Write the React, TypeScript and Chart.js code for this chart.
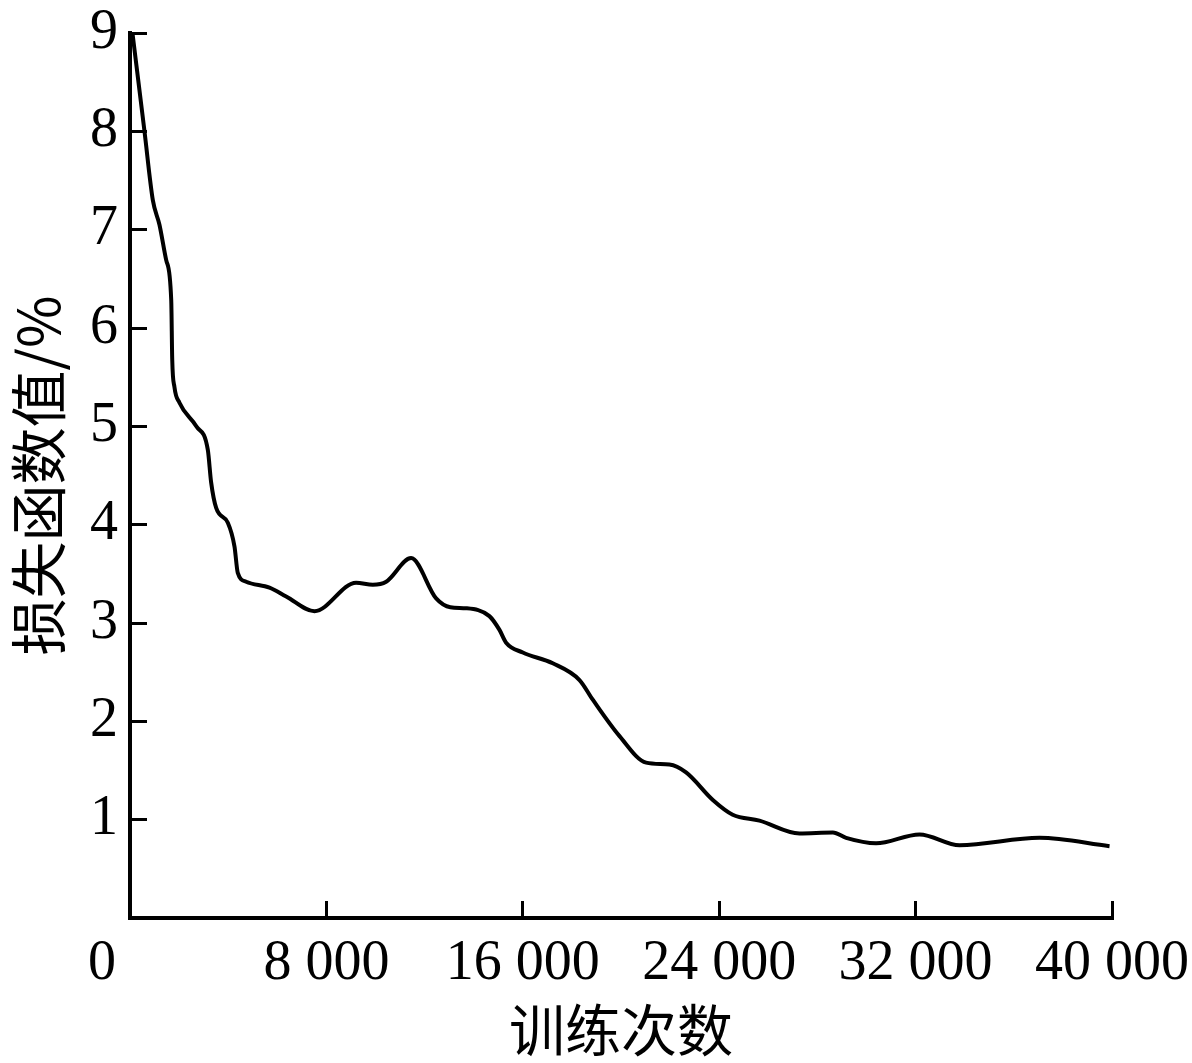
import { useEffect, useRef } from 'react';
import { Chart, registerables } from 'chart.js';

Chart.register(...registerables);

// training iterations vs loss (%)
const iterations = [
  100, 590, 930, 1200, 1475, 1680, 1720, 1810, 2015, 2700, 3170, 3305, 3510, 3985,
  4255, 4390, 4730, 5680, 6360, 7515, 9210, 9890, 10435, 11450, 12470, 13050, 13690,
  14640, 15050, 15320, 16000, 17220, 18310, 18850, 19940, 21025, 21970, 22650, 23740,
  24550, 25640, 27270, 28630, 29170, 30390, 32160, 33790, 37045, 39900,
];
const lossValues = [
  9.0, 8.0, 7.3, 7.05, 6.69, 6.28, 5.68, 5.4, 5.24, 5.0, 4.76, 4.43, 4.17, 4.02,
  3.78, 3.51, 3.42, 3.36, 3.27, 3.12, 3.41, 3.39, 3.42, 3.66, 3.25, 3.16, 3.15,
  3.07, 2.93, 2.8, 2.7, 2.59, 2.42, 2.22, 1.85, 1.58, 1.56, 1.48, 1.2,
  1.05, 0.99, 0.86, 0.87, 0.815, 0.76, 0.85, 0.74, 0.815, 0.73,
];
const xTicks = [0, 8000, 16000, 24000, 32000, 40000];
const xTickLabels = ['0', '8 000', '16 000', '24 000', '32 000', '40 000'];
const yTicks = [1, 2, 3, 4, 5, 6, 7, 8, 9];

const serif = '"Liberation Serif", "Times New Roman", serif';
const cjk = '"Noto Sans CJK SC", sans-serif';

export default function App() {
  const canvasRef = useRef<HTMLCanvasElement>(null);

  useEffect(() => {
    if (!canvasRef.current) return;

    const chart = new Chart(canvasRef.current, {
      type: 'line',
      data: {
        datasets: [
          {
            data: iterations.map((x, i) => ({ x, y: lossValues[i] })),
            borderColor: '#000',
            borderWidth: 4,
            pointRadius: 0,
            fill: false,
            tension: 0.4,
            cubicInterpolationMode: 'monotone',
          },
        ],
      },
      options: {
        animation: false,
        responsive: true,
        maintainAspectRatio: false,
        layout: { padding: { top: 33, right: 80, bottom: 0, left: 0 } },
        plugins: { legend: { display: false }, tooltip: { enabled: false } },
        scales: {
          x: {
            type: 'linear',
            min: 0,
            max: 40000,
            afterBuildTicks: (s: any) => { s.ticks = xTicks.map((v) => ({ value: v })); },
            afterFit: (s: any) => {
              s.height = 145;
              s.paddingLeft = 0;
              s.paddingRight = 0;
            },
            grid: { drawOnChartArea: false, tickLength: -17, color: '#000', lineWidth: 3 },
            border: { color: '#000', width: 4 },
            ticks: {
              autoSkip: false,
              maxRotation: 0,
              padding: 30,
              color: '#000',
              font: { family: serif, size: 56 },
              callback: (v: any) => {
                const i = xTicks.indexOf(Number(v));
                if (i < 0) return '';
                // origin label sits left of the axis corner
                return i === 0 ? xTickLabels[i] + '    ' : xTickLabels[i];
              },
            },
            title: {
              display: true,
              text: '训练次数',
              color: '#000',
              font: { family: cjk, size: 56 },
              padding: 0,
            },
          },
          y: {
            min: 0,
            max: 9,
            afterBuildTicks: (s: any) => { s.ticks = yTicks.map((v) => ({ value: v })); },
            afterFit: (s: any) => {
              s.width = 130;
              s.paddingTop = 0;
              s.paddingBottom = 0;
            },
            grid: { drawOnChartArea: false, tickLength: -17, color: '#000', lineWidth: 3 },
            border: { color: '#000', width: 4 },
            ticks: {
              padding: 29,
              color: '#000',
              font: { family: serif, size: 56 },
            },
            title: {
              display: true,
              text: '损失函数值/%',
              color: '#000',
              font: { family: cjk, size: 57 },
              padding: 4,
            },
          },
        },
      },
    });

    return () => chart.destroy();
  }, []);

  return (
    <div style={{ position: 'fixed', left: 0, top: 0, width: 1192, height: 1063, background: '#fff' }}>
      <canvas ref={canvasRef} />
    </div>
  );
}
